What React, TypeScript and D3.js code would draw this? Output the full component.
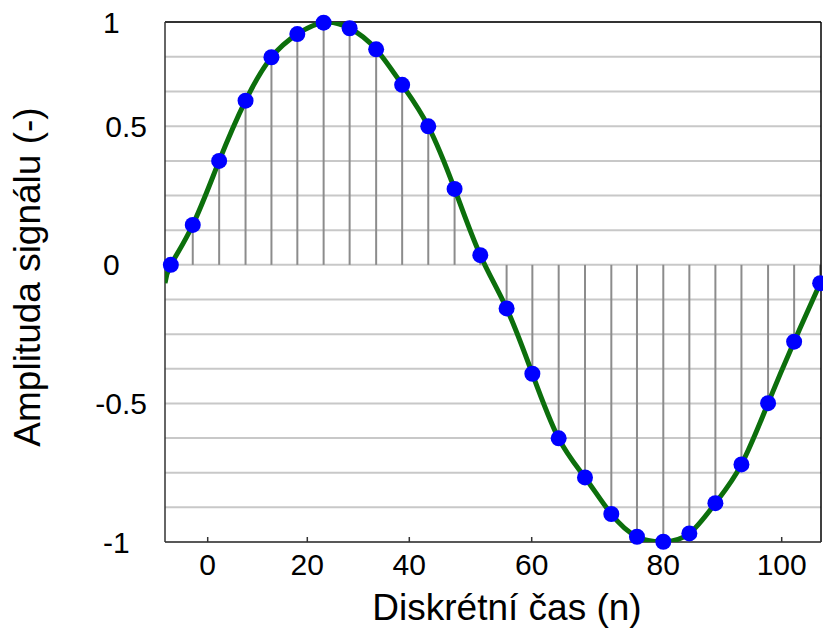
import React from 'react';
import * as d3 from 'd3';

// sample times (n) and amplitudes
const sampleN = [-7.4, -3.0, 2.3, 7.6, 12.8, 18.0, 23.2, 28.3, 33.5, 38.6, 43.1, 47.4, 51.6, 55.9,
  60.1, 64.1, 68.1, 72.1, 76.0, 80.0, 84.4, 88.8, 93.2, 97.7, 102.1, 106.5];
const sampleValues = [0, 0.144, 0.375, 0.623, 0.831, 0.942, 0.997, 0.970, 0.869, 0.699, 0.5, 0.274,
  0.035, -0.157, -0.393, -0.626, -0.767, -0.899, -0.981, -0.999, -0.969, -0.860, -0.720, -0.499,
  -0.277, -0.066];
// where the continuous signal leaves the plot on the left and right
const edgeValues = [-0.066, -0.058];

const xTickValues = [0, 20, 40, 60, 80, 100];
const yTickValues = [-1, -0.5, 0, 0.5, 1];
const yTickLabels = ['-1', '-0.5', '0', '0.5', '1'];
const gridValues = [-1, -0.875, -0.75, -0.625, -0.5, -0.375, -0.25, -0.125, 0, 0.125, 0.25, 0.375,
  0.5, 0.6667, 0.8333, 1];

const xTitle = 'Diskrétní čas (n)';
const yTitle = 'Amplituda signálu (-)';

const W = 823;
const H = 630;
const margin = { left: 165, top: 22, right: 2, bottom: 88 };
const iw = W - margin.left - margin.right;
const ih = H - margin.top - margin.bottom;

const font = '"Liberation Sans", Arial, sans-serif';

export default function App() {
  // axis ticks in the original are not evenly spaced, so the scales are piecewise
  const x = d3.scaleLinear().domain(xTickValues).range([42.7, 142.3, 244.3, 366.7, 498.3, 616.7]);
  const y = d3.scaleLinear().domain([-1, 0.5, 1]).range([ih, ih - 415.7, 0]);

  const samples = sampleN.map((n, i) => ({ n, v: sampleValues[i] }));
  const curvePts = [
    { n: x.invert(0), v: edgeValues[0] },
    ...samples,
    { n: x.invert(iw), v: edgeValues[1] },
  ];

  const line = d3.line<{ n: number; v: number }>()
    .x(d => x(d.n))
    .y(d => y(d.v))
    .curve(d3.curveNatural);

  const y0 = y(0);

  return (
    <svg width={W} height={H} style={{ position: 'absolute', left: 0, top: 0, background: '#fff' }}>
      <defs>
        <clipPath id="plot">
          <rect x={0} y={0} width={iw} height={ih} />
        </clipPath>
      </defs>
      <g transform={`translate(${margin.left},${margin.top})`}>
        {gridValues.map((g, i) => (
          <line key={'g' + i} x1={0} x2={iw} y1={y(g)} y2={y(g)} stroke="#c8c8c8" strokeWidth={2} />
        ))}
        {samples.map((d, i) => (
          <line key={'s' + i} x1={x(d.n)} x2={x(d.n)} y1={y0} y2={y(d.v)} stroke="#8c8c8c" strokeWidth={2} />
        ))}

        {/* frame */}
        <line x1={0} x2={iw} y1={0} y2={0} stroke="#000" strokeWidth={1.5} />
        <line x1={iw} x2={iw} y1={0} y2={ih} stroke="#000" strokeWidth={1.5} />
        <line x1={0} x2={0} y1={0} y2={ih} stroke="#333" strokeWidth={1.5} />
        <line x1={0} x2={iw} y1={ih} y2={ih} stroke="#333" strokeWidth={1.5} />

        {xTickValues.map(t => (
          <g key={'xt' + t}>
            <line x1={x(t)} x2={x(t)} y1={ih} y2={ih - 5} stroke="#333" strokeWidth={1.5} />
            <text x={x(t)} y={ih + 33} textAnchor="middle" fontFamily={font} fontSize={30} fill="#000">{t}</text>
          </g>
        ))}
        {yTickValues.map((t, i) => {
          const lab = yTickLabels[i];
          const dec = lab.includes('.');
          return (
            <text key={'yt' + t} x={dec ? -18 : -62} y={y(t)} dy="0.35em" textAnchor={dec ? 'end' : 'start'}
              fontFamily={font} fontSize={30} fill="#000">{lab}</text>
          );
        })}

        <g clipPath="url(#plot)">
          <path d={line(curvePts) || ''} fill="none" stroke="#0c6f0c" strokeWidth={5} />
        </g>
        {samples.map((d, i) => (
          <circle key={'c' + i} cx={x(d.n)} cy={y(d.v)} r={8} fill="#0000ff" />
        ))}
      </g>

      <text x={507} y={620} textAnchor="middle" fontFamily={font} fontSize={37} fill="#000">{xTitle}</text>
      <text transform={`translate(40,277) rotate(-90)`} textAnchor="middle" fontFamily={font} fontSize={37} fill="#000">{yTitle}</text>
    </svg>
  );
}
